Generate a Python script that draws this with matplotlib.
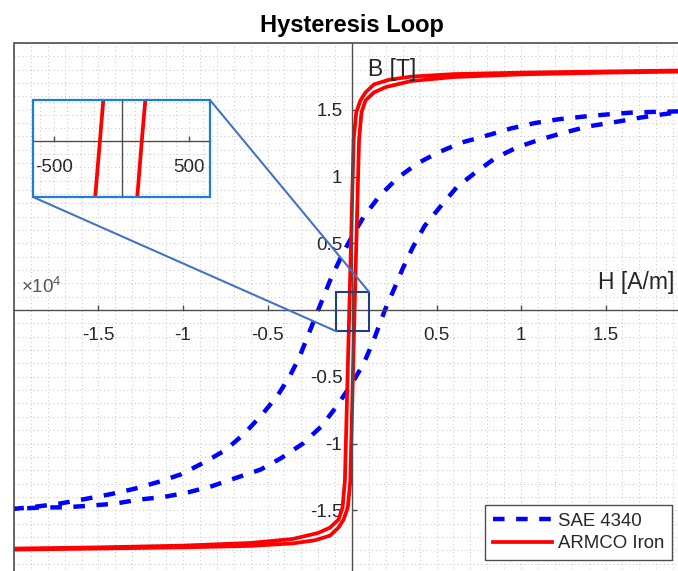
import numpy as np
import matplotlib.pyplot as plt
from matplotlib.patches import Rectangle, ConnectionPatch
from matplotlib.ticker import MultipleLocator, FuncFormatter

plt.rcParams['font.family'] = ['Liberation Sans', 'DejaVu Sans']
plt.rcParams['mathtext.fontset'] = 'custom'
plt.rcParams['mathtext.rm'] = 'Liberation Sans'
plt.rcParams['axes.unicode_minus'] = False

# ---- data: H in A/m, B in T ----
# SAE 4340, descending branch (+Hmax -> -Hmax)
sae_h_down = [20000, 18200, 16700, 15200, 13800, 12300, 10800, 9400, 7800, 6500,
              5100, 3900, 2700, 1600, 700, 0, -600, -1300, -2000, -2600, -3100,
              -3700, -4400, -5300, -6400, -7500, -8650, -10100, -11400, -12900,
              -14300, -15800, -17300, -18500, -20000]
sae_b_down = [1.49, 1.485, 1.48, 1.466, 1.45, 1.43, 1.40, 1.36, 1.30, 1.255,
              1.18, 1.10, 0.99, 0.85, 0.70, 0.55, 0.41, 0.22, 0.0, -0.19, -0.35,
              -0.50, -0.64, -0.78, -0.93, -1.05, -1.135, -1.23, -1.286, -1.34,
              -1.38, -1.416, -1.45, -1.47, -1.49]
# SAE 4340, ascending branch (-Hmax -> +Hmax)
sae_h_up = [-20000, -18500, -17000, -15500, -14000, -12600, -11100, -9700, -8300,
            -6800, -5400, -4200, -2900, -1800, -900, 0, 700, 1300, 1950, 2500,
            3000, 3600, 4300, 5200, 6200, 7300, 8500, 9800, 11200, 12600, 14000,
            15500, 17000, 18400, 20000]
sae_b_up = [-1.49, -1.48, -1.478, -1.466, -1.45, -1.42, -1.40, -1.366, -1.32,
            -1.255, -1.195, -1.11, -1.0, -0.87, -0.72, -0.55, -0.40, -0.22, 0.0,
            0.16, 0.31, 0.47, 0.63, 0.77, 0.92, 1.03, 1.14, 1.22, 1.28, 1.33,
            1.376, 1.406, 1.44, 1.466, 1.49]

# ARMCO iron
armco_h_down = [20000, 15000, 10000, 6000, 3500, 2200, 1300, 800, 500, 250, 100,
                -160, -420, -560, -800, -1300, -2000, -3500, -6000, -10000,
                -15000, -20000]
armco_b_down = [1.795, 1.787, 1.778, 1.767, 1.748, 1.725, 1.69, 1.63, 1.57, 1.48,
                1.28, 0.0, -1.28, -1.48, -1.57, -1.63, -1.67, -1.715, -1.745,
                -1.765, -1.778, -1.787]
armco_h_up = [-20000, -15000, -10000, -6000, -3500, -2200, -1300, -800, -500,
              -250, -100, 150, 420, 560, 800, 1300, 2000, 3500, 6000, 10000,
              15000, 20000]
armco_b_up = [-1.795, -1.787, -1.778, -1.767, -1.748, -1.725, -1.69, -1.63, -1.57,
              -1.48, -1.28, 0.0, 1.28, 1.48, 1.57, 1.63, 1.67, 1.715, 1.745,
              1.765, 1.778, 1.787]

x_ticks = [-15000, -10000, -5000, 5000, 10000, 15000]
y_ticks = [-1.5, -1, -0.5, 0.5, 1, 1.5]
inset_ticks = [-500, 500]
zoom_box = (-920, -0.16, 1930, 0.295)   # x0, y0, width, height of zoom region

sae_h = sae_h_down + sae_h_up
sae_b = sae_b_down + sae_b_up
armco_h = armco_h_down + armco_h_up
armco_b = armco_b_down + armco_b_up

txt = '#262626'
axcol = '#4d4d4d'
gridcol = '#c4c4c4'
grid_ls = (0, (1, 3))

fig = plt.figure(figsize=(6.78, 5.71), dpi=100)
ax = fig.add_axes([14/678, -6/571, 676/678, 534/571])

ax.plot(sae_h, sae_b, color='#0000FF', lw=3.2, ls=(0, (2.6, 2.6)), label='SAE 4340')
ax.plot(armco_h, armco_b, color='#FF0000', lw=2.7, label='ARMCO Iron')

ax.set_xlim(-20000, 20000)
ax.set_ylim(-2, 2)
ax.set_xticks(x_ticks)
ax.set_yticks(y_ticks)
ax.xaxis.set_major_formatter(FuncFormatter(lambda v, p: f'{v/1e4:g}'))
ax.yaxis.set_major_formatter(FuncFormatter(lambda v, p: f'{v:g}'))
ax.xaxis.set_minor_locator(MultipleLocator(1000))
ax.yaxis.set_minor_locator(MultipleLocator(0.1))
ax.grid(which='both', ls=grid_ls, color=gridcol, lw=0.7)

for s in ['top', 'right']:
    ax.spines[s].set_visible(False)
ax.spines['left'].set_position(('data', 0))
ax.spines['bottom'].set_position(('data', 0))
for s in ['left', 'bottom']:
    ax.spines[s].set_color(axcol)
    ax.spines[s].set_linewidth(1.0)
ax.add_patch(Rectangle((0, 0), 1, 1, transform=ax.transAxes, fill=False,
                       ec=axcol, lw=1.2, clip_on=False, zorder=5))
ax.tick_params(which='major', direction='in', length=3.5, width=1, color=axcol,
               labelsize=13.5, labelcolor=txt)
ax.tick_params(axis='x', which='major', pad=12)
ax.tick_params(axis='y', which='major', pad=7)
ax.tick_params(which='minor', length=0)

ax.set_title('Hysteresis Loop', fontsize=17, fontweight='bold', color='black', pad=8)
ax.text(0.8635, 0.551, 'H [A/m]', transform=ax.transAxes, fontsize=16.5,
        color=txt, ha='left', va='center')
ax.text(0.5237, 0.950, 'B [T]', transform=ax.transAxes, fontsize=16.5,
        color=txt, ha='left', va='center')
ax.text(0.011, 0.543, r'$\mathregular{\times10^{4}}$', transform=ax.transAxes,
        fontsize=13.5, color='#555555', ha='left', va='center')

leg = ax.legend(loc='lower right', bbox_to_anchor=(672/678, 11/571),
                bbox_transform=fig.transFigure, fontsize=13.4, fancybox=False,
                edgecolor=axcol, framealpha=1, borderaxespad=0, handlelength=3.2,
                handletextpad=0.3, labelspacing=0.3, borderpad=0.42)
leg.get_frame().set_linewidth(1.0)
for t in leg.get_texts():
    t.set_color(txt)

# zoom rectangle
zx, zy, zw, zh = zoom_box
ax.add_patch(Rectangle((zx, zy), zw, zh, fill=False, ec='#1f3f7f', lw=1.5, zorder=6))

# inset
axi = fig.add_axes([33/678, (571-197)/571, 177/678, 97/571])
axi.plot(armco_h, armco_b, color='#FF0000', lw=2.7)
axi.set_xlim(-655, 655)
axi.set_ylim(-0.17, 0.125)
axi.set_xticks(inset_ticks)
axi.set_yticks([])
axi.xaxis.set_minor_locator(MultipleLocator(100))
axi.yaxis.set_minor_locator(MultipleLocator(0.04))
axi.grid(which='both', ls=grid_ls, color=gridcol, lw=0.7)
for s in ['top', 'right']:
    axi.spines[s].set_visible(False)
axi.spines['left'].set_position(('data', 0))
axi.spines['bottom'].set_position(('data', 0))
for s in ['left', 'bottom']:
    axi.spines[s].set_color(axcol)
    axi.spines[s].set_linewidth(1.0)
axi.add_patch(Rectangle((0, 0), 1, 1, transform=axi.transAxes, fill=False,
                        ec='#1c7ed6', lw=1.6, clip_on=False, zorder=5))
axi.tick_params(which='major', direction='in', length=3.5, width=1, color=axcol,
                labelsize=13.5, labelcolor=txt, pad=13)
axi.tick_params(which='minor', length=0)

for xa, xb in [((1, 1), (zx + zw, zy + zh)), ((0, 0), (zx, zy))]:
    con = ConnectionPatch(xyA=xa, coordsA=axi.transAxes, xyB=xb, coordsB=ax.transData,
                          color='#4472c4', lw=1.5, zorder=7)
    fig.add_artist(con)

fig.savefig('out.png', dpi=100)
